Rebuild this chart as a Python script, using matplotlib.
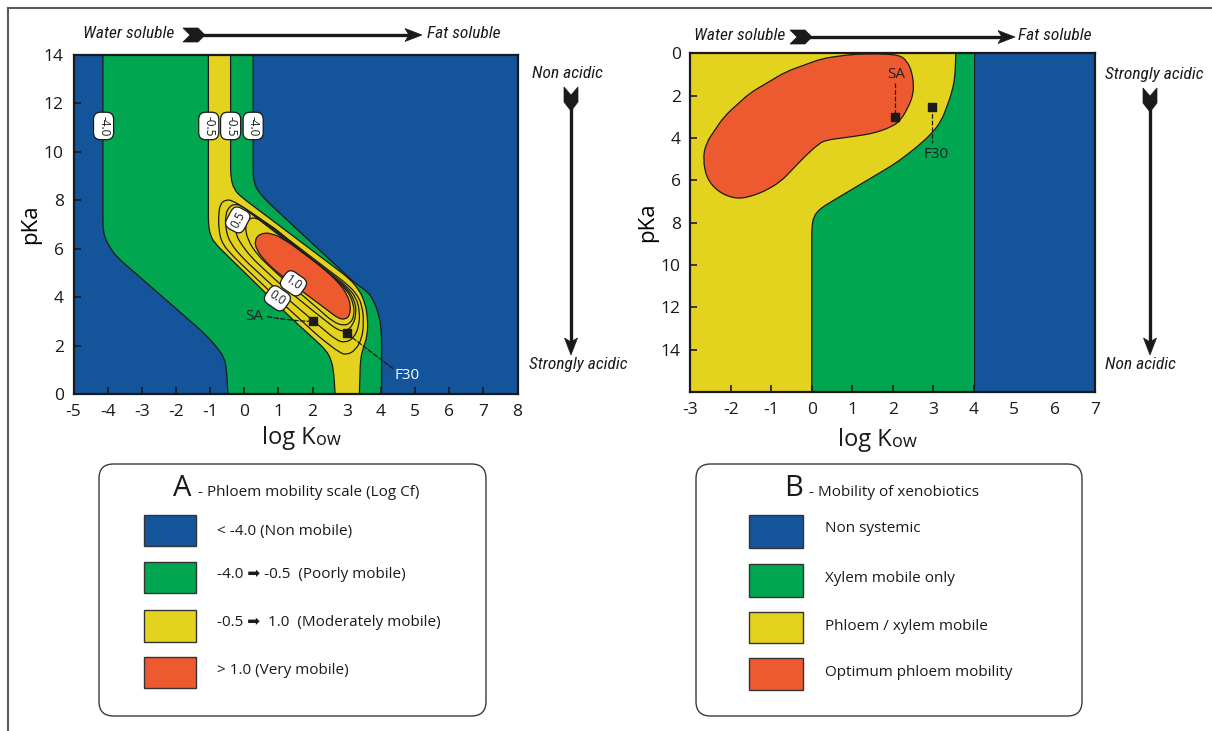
import matplotlib
matplotlib.use('Agg')
import matplotlib.pyplot as plt
from matplotlib.patches import Polygon, FancyBboxPatch, Rectangle, PathPatch
from matplotlib.path import Path
from matplotlib.lines import Line2D
from matplotlib import font_manager as fm

plt.rcParams['font.family'] = ['Open Sans', 'DejaVu Sans']
plt.rcParams['axes.unicode_minus'] = False

W, H = 1212, 731
BLUE = '#14549A'
GREEN = '#00A650'
YELLOW = '#E4D31E'
RED = '#EE5A30'
INK = '#1a1a1a'

# ---------------- Panel A data (log Kow vs pKa, phloem mobility log Cf) -------------
A_XTICKS = list(range(-5, 9))
A_YTICKS = list(range(0, 15, 2))
# -4.0 contours
A_M4_LEFT_X = [-4.14, -4.14, -4.10, -3.95, -3.75, -1.18, -0.82, -0.58, -0.52, -0.48]
A_M4_LEFT_Y = [14.0, 7.00, 6.50, 6.09, 5.68, 2.52, 1.97, 1.49, 1.00, 0.00]
A_M4_RIGHT_X = [0.26, 0.26, 0.30, 0.38, 0.62, 3.24, 3.60, 3.78, 3.96, 4.02, 4.02]
A_M4_RIGHT_Y = [14.0, 9.00, 8.70, 8.43, 8.02, 4.58, 4.24, 3.89, 3.20, 2.52, 0.00]
# -0.5 contours
A_M05_LEFT_X = [-1.05, -1.05, -1.00, -0.88, 1.40, 2.10, 2.40, 2.55, 2.62, 2.66]
A_M05_LEFT_Y = [14.0, 7.00, 6.60, 6.25, 3.10, 2.20, 1.80, 1.40, 0.90, 0.00]
A_M05_RIGHT_X = [-0.40, -0.40, -0.30, -0.10, 3.06, 3.36, 3.54, 3.62, 3.60, 3.48, 3.40, 3.37]
A_M05_RIGHT_Y = [14.0, 8.95, 8.45, 8.15, 4.79, 4.31, 3.76, 3.07, 2.38, 1.90, 1.42, 0.00]
# closed contours inside the yellow band
A_L00_X = [-0.75, -0.70, -0.55, -0.35, 0.50, 1.50, 2.50, 3.00, 3.30, 3.45, 3.50, 3.45, 3.25, 3.00, 2.80, 2.20, 1.00, -0.30, -0.65, -0.75]
A_L00_Y = [7.45, 7.85, 8.02, 8.00, 7.22, 6.16, 5.08, 4.55, 4.12, 3.65, 3.00, 2.30, 1.80, 1.62, 1.70, 2.35, 3.90, 5.65, 6.20, 6.80]
A_L025_X = [-0.55, -0.45, -0.30, -0.10, 0.50, 1.50, 2.50, 3.00, 3.28, 3.38, 3.36, 3.20, 2.95, 2.70, 2.00, 1.00, 0.00, -0.40, -0.55]
A_L025_Y = [7.40, 7.72, 7.84, 7.80, 7.17, 6.10, 5.02, 4.45, 3.98, 3.40, 2.80, 2.30, 2.12, 2.22, 3.05, 4.25, 5.55, 6.20, 6.80]
A_L05_X = [-0.25, -0.22, -0.12, 0.05, 0.50, 1.50, 2.50, 3.00, 3.24, 3.28, 3.18, 3.00, 2.75, 2.00, 1.00, 0.20, -0.12, -0.24]
A_L05_Y = [6.90, 7.20, 7.50, 7.62, 7.12, 6.04, 4.96, 4.38, 3.85, 3.30, 2.85, 2.60, 2.62, 3.45, 4.60, 5.65, 6.25, 6.60]
A_L075_X = [0.02, 0.12, 0.32, 0.80, 1.60, 2.50, 3.00, 3.20, 3.22, 3.10, 2.90, 2.60, 2.00, 1.00, 0.40, 0.10]
A_L075_Y = [6.95, 7.22, 7.30, 6.95, 6.00, 4.93, 4.32, 3.75, 3.22, 2.92, 2.82, 2.98, 3.72, 4.92, 5.72, 6.35]
A_RED_X = [0.30, 0.45, 0.78, 1.20, 1.60, 2.00, 2.40, 2.75, 3.02, 3.12, 3.08, 2.95, 2.75, 2.45, 2.00, 1.50, 1.00, 0.60, 0.36]
A_RED_Y = [6.34, 6.62, 6.66, 6.36, 5.95, 5.53, 5.08, 4.62, 4.10, 3.62, 3.22, 3.08, 3.12, 3.45, 3.92, 4.45, 4.98, 5.50, 5.95]
A_CLABELS = ['-4.0', '-0.5', '-0.5', '-4.0', '0.5', '1.0', '0.0']
A_CLABEL_X = [-4.12, -1.04, -0.40, 0.26, -0.19, 1.44, 0.97]
A_CLABEL_Y = [11.07, 11.07, 11.07, 11.07, 7.19, 4.57, 3.95]
A_CLABEL_ROT = [-90, -90, -90, -90, 62, -35, -35]
A_PTS_NAME = ['SA', 'F30']
A_PTS_X = [2.0, 3.0]
A_PTS_Y = [3.0, 2.5]
A_PTS_LABEL_X = [0.30, 4.77]
A_PTS_LABEL_Y = [3.22, 0.78]

# ---------------- Panel B data (mobility of xenobiotics) -------------
B_XTICKS = list(range(-3, 8))
B_YTICKS = list(range(0, 15, 2))
B_GREEN_X = [0.0, 0.0, 0.05, 0.18, 0.30, 2.07, 2.61, 2.97, 3.20, 3.34, 3.47, 3.54, 3.56]
B_GREEN_Y = [16.0, 8.2, 7.7, 7.4, 7.22, 5.20, 4.41, 3.78, 3.20, 2.52, 1.80, 1.10, 0.0]
B_NONSYS_X = 4.0
B_RED_X = [0.99, 1.60, 2.16, 2.35, 2.48, 2.52, 2.49, 2.43, 2.21, 1.98, 1.53, 0.99, 0.36, 0.18,
           -0.18, -0.77, -1.27, -1.81, -2.26, -2.58, -2.69, -2.62, -2.17, -1.54, -0.64, 0.27]
B_RED_Y = [0.05, 0.02, 0.08, 0.35, 0.90, 1.58, 2.00, 2.36, 3.15, 3.47, 3.78, 3.94, 4.10, 4.26,
           4.89, 6.07, 6.62, 6.90, 6.62, 5.99, 5.04, 4.26, 2.99, 1.89, 0.87, 0.24]
B_PTS_NAME = ['SA', 'F30']
B_PTS_X = [2.05, 2.97]
B_PTS_Y = [3.0, 2.55]
B_PTS_LABEL_X = [2.10, 3.07]
B_PTS_LABEL_Y = [1.02, 4.76]

LEG_A_TITLE = ' - Phloem mobility scale (Log Cf)'
LEG_A_LABELS = ['< -4.0 (Non mobile)', '-4.0 \u27a1 -0.5  (Poorly mobile)',
                '-0.5 \u27a1  1.0  (Moderately mobile)', '> 1.0 (Very mobile)']
LEG_B_TITLE = ' - Mobility of xenobiotics'
LEG_B_LABELS = ['Non systemic', 'Xylem mobile only', 'Phloem / xylem mobile', 'Optimum phloem mobility']
LEG_COLORS = [BLUE, GREEN, YELLOW, RED]


def fx(x):
    return x / W


def fy(y):
    return 1 - y / H


# condensed italic font for the direction annotations, if any is installed
_names = {f.name for f in fm.fontManager.ttflist}
ITAL_FAMILY, ITAL_SIZE = 'Open Sans', 10.4
for cand in ['Liberation Sans Narrow', 'Roboto Condensed', 'Open Sans Condensed']:
    if cand in _names:
        ITAL_FAMILY, ITAL_SIZE = cand, 12.5
        break
ITAL = dict(family=[ITAL_FAMILY, 'DejaVu Sans'], style='italic', fontsize=ITAL_SIZE, color=INK)


def rounded(xs, ys, closed, sx, sy, R=9.0):
    """Path through the read vertices with their corners rounded (radius R px)."""
    P = list(zip(xs, ys))
    n = len(P)

    def toward(a, b):
        dx, dy = (b[0] - a[0]) * sx, (b[1] - a[1]) * sy
        L = (dx * dx + dy * dy) ** 0.5
        t = min(0.5, R / L) if L > 0 else 0.0
        return (a[0] + (b[0] - a[0]) * t, a[1] + (b[1] - a[1]) * t)

    verts, codes = [], []
    if not closed:
        verts.append(P[0])
        codes.append(Path.MOVETO)
    idx = range(n) if closed else range(1, n - 1)
    for k, i in enumerate(idx):
        cur, prv, nxt = P[i], P[i - 1], P[(i + 1) % n]
        a, b = toward(cur, prv), toward(cur, nxt)
        verts.append(a)
        codes.append(Path.MOVETO if (closed and k == 0) else Path.LINETO)
        verts += [cur, b]
        codes += [Path.CURVE3, Path.CURVE3]
    if closed:
        verts.append(verts[0])
        codes.append(Path.CLOSEPOLY)
    else:
        verts.append(P[-1])
        codes.append(Path.LINETO)
    return verts, codes


def band_path(lx, ly, rx, ry, sx, sy):
    v1, c1 = rounded(lx, ly, False, sx, sy)
    v2, c2 = rounded(rx[::-1], ry[::-1], False, sx, sy)
    c2 = [Path.LINETO] + c2[1:]
    return Path(v1 + v2 + [v1[0]], c1 + c2 + [Path.CLOSEPOLY])


fig = plt.figure(figsize=(W / 100, H / 100), dpi=100)
fig.patch.set_facecolor('white')

# frame lines of the original page
fig.add_artist(Line2D([fx(8), 1], [fy(8), fy(8)], transform=fig.transFigure, color='#5a5a5a', lw=1.5))
fig.add_artist(Line2D([fx(8), fx(8)], [fy(8), 0], transform=fig.transFigure, color='#5a5a5a', lw=1.5))

axA = fig.add_axes([fx(73.5), fy(394), fx(517.5) - fx(73.5), fy(55) - fy(394)])
axB = fig.add_axes([fx(690.4), fy(392), fx(1095) - fx(690.4), fy(53.3) - fy(392)])
SXA, SYA = 34.15, 24.21
SXB, SYB = 40.46, 21.17


def style_axes(ax):
    for s in ax.spines.values():
        s.set_linewidth(1.6)
        s.set_color(INK)
        s.set_zorder(20)
    ax.tick_params(direction='in', length=5, width=1.2, color=INK, labelsize=12.5,
                   labelcolor=INK, pad=7)


def add_path(ax, path, fc, ec, z):
    ax.add_patch(PathPatch(path, facecolor=fc, edgecolor=ec, lw=0.9, zorder=z))


# ---- Panel A ----
axA.set_facecolor(BLUE)
axA.set_xlim(-5, 8)
axA.set_ylim(0, 14)
add_path(axA, band_path(A_M4_LEFT_X, A_M4_LEFT_Y, A_M4_RIGHT_X, A_M4_RIGHT_Y, SXA, SYA), GREEN, 'none', 1)
add_path(axA, band_path(A_M05_LEFT_X, A_M05_LEFT_Y, A_M05_RIGHT_X, A_M05_RIGHT_Y, SXA, SYA), YELLOW, 'none', 2)
for xs, ys in [(A_M4_LEFT_X, A_M4_LEFT_Y), (A_M4_RIGHT_X, A_M4_RIGHT_Y),
               (A_M05_LEFT_X, A_M05_LEFT_Y), (A_M05_RIGHT_X, A_M05_RIGHT_Y)]:
    add_path(axA, Path(*rounded(xs, ys, False, SXA, SYA)), 'none', INK, 3)
for xs, ys in [(A_L00_X, A_L00_Y), (A_L025_X, A_L025_Y), (A_L05_X, A_L05_Y), (A_L075_X, A_L075_Y)]:
    add_path(axA, Path(*rounded(xs, ys, True, SXA, SYA)), 'none', INK, 4)
add_path(axA, Path(*rounded(A_RED_X, A_RED_Y, True, SXA, SYA)), RED, INK, 5)
for s, x, y, r in zip(A_CLABELS, A_CLABEL_X, A_CLABEL_Y, A_CLABEL_ROT):
    axA.text(x, y, s, rotation=r, ha='center', va='center', fontsize=8.5, color=INK, zorder=8,
             rotation_mode='anchor',
             bbox=dict(boxstyle='round,pad=0.3,rounding_size=0.6', fc='white', ec=INK, lw=0.9))
axA.scatter(A_PTS_X, A_PTS_Y, marker='s', s=30, color=INK, zorder=9)
axA.annotate('', xy=(A_PTS_X[0], A_PTS_Y[0]), xytext=(A_PTS_LABEL_X[0] + 0.3, A_PTS_LABEL_Y[0]),
             arrowprops=dict(arrowstyle='-', ls='--', lw=0.9, color=INK,
                             connectionstyle='arc3,rad=0.05'), zorder=7)
axA.annotate('', xy=(A_PTS_X[1], A_PTS_Y[1]), xytext=(A_PTS_LABEL_X[1] - 0.35, A_PTS_LABEL_Y[1] + 0.2),
             arrowprops=dict(arrowstyle='-', ls='--', lw=0.9, color=INK), zorder=7)
axA.text(A_PTS_LABEL_X[0], A_PTS_LABEL_Y[0], A_PTS_NAME[0], ha='center', va='center', fontsize=11,
         color='#222222', zorder=9)
axA.text(A_PTS_LABEL_X[1], A_PTS_LABEL_Y[1], A_PTS_NAME[1], ha='center', va='center', fontsize=11,
         color='white', zorder=9)
axA.set_xticks(A_XTICKS)
axA.set_yticks(A_YTICKS)
style_axes(axA)
axA.set_ylabel('pKa', fontsize=16, labelpad=2)

# ---- Panel B ----
axB.set_facecolor(YELLOW)
axB.set_xlim(-3, 7)
axB.set_ylim(16, 0)
bgx = B_GREEN_X + [B_NONSYS_X, B_NONSYS_X]
bgy = B_GREEN_Y + [0.0, 16.0]
gv, gc = rounded(B_GREEN_X, B_GREEN_Y, False, SXB, SYB)
add_path(axB, Path(gv + [(B_NONSYS_X, 0.0), (B_NONSYS_X, 16.0), gv[0]],
                   gc + [Path.LINETO, Path.LINETO, Path.CLOSEPOLY]), GREEN, 'none', 1)
add_path(axB, Path(gv, gc), 'none', INK, 3)
axB.axvspan(B_NONSYS_X, 7, color=BLUE, zorder=2)
axB.axvline(B_NONSYS_X, color=INK, lw=0.9, zorder=3)
add_path(axB, Path(*rounded(B_RED_X, B_RED_Y, True, SXB, SYB)), RED, INK, 4)
axB.scatter(B_PTS_X, B_PTS_Y, marker='s', s=30, color=INK, zorder=9)
axB.plot([B_PTS_X[0], B_PTS_X[0]], [B_PTS_LABEL_Y[0] + 0.4, B_PTS_Y[0]], ls='--', lw=0.9, color=INK, zorder=7)
axB.plot([B_PTS_X[1], B_PTS_X[1]], [B_PTS_Y[1], B_PTS_LABEL_Y[1] - 0.5], ls='--', lw=0.9, color=INK, zorder=7)
for s, x, y in zip(B_PTS_NAME, B_PTS_LABEL_X, B_PTS_LABEL_Y):
    axB.text(x, y, s, ha='center', va='center', fontsize=11, color='#222222', zorder=9)
axB.set_xticks(B_XTICKS)
axB.set_yticks(B_YTICKS)
style_axes(axB)
axB.set_ylabel('pKa', fontsize=16, labelpad=2)

# x labels "log Kow"
for xsplit, yc in [(316, 438), (892, 440)]:
    fig.text(fx(xsplit), fy(yc), 'log K', ha='right', va='center', fontsize=17, color=INK)
    fig.text(fx(xsplit), fy(yc + 2), 'ow', ha='left', va='center', fontsize=13, color=INK)


def harrow(x0, x1, y):
    fig.add_artist(Line2D([fx(x0 + 18), fx(x1 - 12)], [fy(y), fy(y)], transform=fig.transFigure, color=INK, lw=2.4))
    chev = [(x0, y - 7), (x0 + 15, y - 7), (x0 + 22, y), (x0 + 15, y + 7), (x0, y + 7), (x0 + 7, y)]
    fig.add_artist(Polygon([(fx(a), fy(b)) for a, b in chev], closed=True, transform=fig.transFigure, fc=INK, ec=INK, lw=0.5))
    head = [(x1 - 17, y - 6.5), (x1, y), (x1 - 17, y + 6.5), (x1 - 13, y)]
    fig.add_artist(Polygon([(fx(a), fy(b)) for a, b in head], closed=True, transform=fig.transFigure, fc=INK, ec=INK, lw=0.5))


def varrow(x, y0, y1):
    fig.add_artist(Line2D([fx(x), fx(x)], [fy(y0 + 18), fy(y1 - 12)], transform=fig.transFigure, color=INK, lw=2.4))
    chev = [(x - 7, y0), (x - 7, y0 + 15), (x, y0 + 24), (x + 7, y0 + 15), (x + 7, y0), (x, y0 + 8)]
    fig.add_artist(Polygon([(fx(a), fy(b)) for a, b in chev], closed=True, transform=fig.transFigure, fc=INK, ec=INK, lw=0.5))
    head = [(x - 6.5, y1 - 17), (x, y1), (x + 6.5, y1 - 17), (x, y1 - 13)]
    fig.add_artist(Polygon([(fx(a), fy(b)) for a, b in head], closed=True, transform=fig.transFigure, fc=INK, ec=INK, lw=0.5))


# panel A
fig.text(fx(174), fy(33), 'Water soluble', ha='right', va='center', **ITAL)
harrow(183, 422, 35)
fig.text(fx(427), fy(33), 'Fat soluble', ha='left', va='center', **ITAL)
fig.text(fx(567), fy(73), 'Non acidic', ha='center', va='center', **ITAL)
varrow(571, 87, 355)
fig.text(fx(578), fy(365), 'Strongly acidic', ha='center', va='center', **ITAL)
# panel B
fig.text(fx(785), fy(35), 'Water soluble', ha='right', va='center', **ITAL)
harrow(790, 1015, 37)
fig.text(fx(1018), fy(35), 'Fat soluble', ha='left', va='center', **ITAL)
fig.text(fx(1105), fy(75), 'Strongly acidic', ha='left', va='center', **ITAL)
varrow(1150, 88, 355)
fig.text(fx(1105), fy(364), 'Non acidic', ha='left', va='center', **ITAL)


def legend_box(x0, x1, y0, y1, letter, letter_x, title, labels, sw_x0, sw_x1, sw_ys, lab_x, lab_ys):
    fig.add_artist(FancyBboxPatch((fx(x0), fy(y1)), fx(x1) - fx(x0), fy(y0) - fy(y1),
                                  boxstyle='round,pad=0,rounding_size=0.012', transform=fig.transFigure,
                                  fc='white', ec='#3a3a3a', lw=1.0, mutation_aspect=W / H))
    fig.text(fx(letter_x), fy(496), letter, ha='left', va='baseline', fontsize=21, color=INK)
    fig.text(fx(letter_x + 21), fy(496), title, ha='left', va='baseline', fontsize=11, color=INK)
    for (ya, yb), col in zip(sw_ys, LEG_COLORS):
        fig.add_artist(Rectangle((fx(sw_x0), fy(yb)), fx(sw_x1) - fx(sw_x0), fy(ya) - fy(yb),
                                 transform=fig.transFigure, fc=col, ec='#333333', lw=1.0))
    for s, y in zip(labels, lab_ys):
        fig.text(fx(lab_x), fy(y), s, ha='left', va='center', fontsize=11, color=INK)


legend_box(99, 486, 464, 716, 'A', 173, LEG_A_TITLE, LEG_A_LABELS, 144, 196,
           [(515, 546), (562, 593), (610, 642), (657, 688)], 217, [531, 575, 623, 671])
legend_box(696, 1082, 464, 716, 'B', 784, LEG_B_TITLE, LEG_B_LABELS, 749, 803,
           [(515, 548), (564, 597), (612, 643), (658, 690)], 825, [529, 578, 626, 672])

fig.savefig('out.png', dpi=100)
